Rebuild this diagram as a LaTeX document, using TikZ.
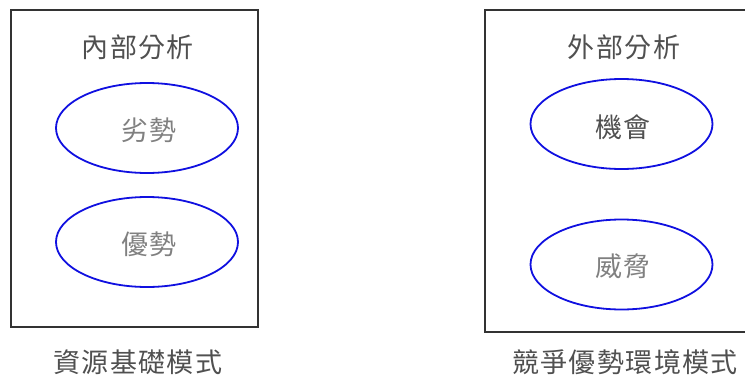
\documentclass[tikz,border=0pt]{standalone}
\usepackage{fontspec}
\newfontfamily\cjk{Noto Sans CJK TC}[LetterSpace=5]
\usetikzlibrary{shapes.geometric}
\definecolor{boxgray}{HTML}{333333}
\definecolor{titlegray}{HTML}{505050}
\definecolor{lightgray}{HTML}{808080}
\definecolor{ellblue}{HTML}{1010E0}
\begin{document}
\begin{tikzpicture}[x=1pt,y=-1pt,
  panel/.style={draw=boxgray,line width=2pt},
  oval/.style={draw=ellblue,line width=1.8pt,ellipse,minimum width=182pt,minimum height=90pt,inner sep=0pt},
  label/.style={font=\cjk\fontsize{27}{27}\selectfont,text=titlegray,inner sep=0pt},
  lightlabel/.style={label,text=lightgray}]
\useasboundingbox (0,0) rectangle (745,378);
\begin{scope}
\clip (0,0) rectangle (745,378);
\draw[panel] (11,10) rectangle (258,327);
\draw[panel] (485,10) rectangle (760,332);
\end{scope}
\node[label] (t1) at (138,47) {內部分析};
\node[oval] (e1) at (147,128) {};
\node[lightlabel] (l1) at (149,130) {劣勢};
\node[oval] (e2) at (147,242) {};
\node[lightlabel] (l2) at (149,244) {優勢};
\node[label] (b1) at (138,362) {資源基礎模式};
\node[label] (t2) at (624,47) {外部分析};
\node[oval] (e3) at (621.5,124) {};
\node[label] (l3) at (623,127) {機會};
\node[oval] (e4) at (621.5,264.5) {};
\node[lightlabel] (l4) at (623,266) {威脅};
\node[label] (b2) at (625,362) {競爭優勢環境模式};
\end{tikzpicture}
\end{document}
